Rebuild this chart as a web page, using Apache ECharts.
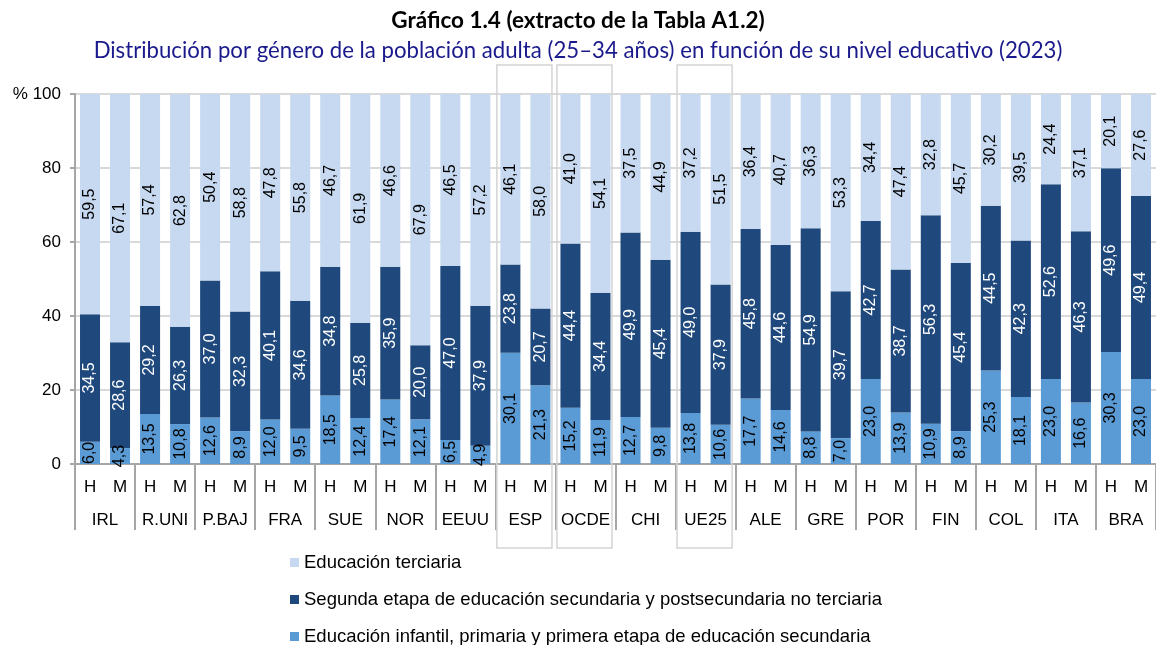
<!DOCTYPE html>
<html>
<head>
<meta charset="utf-8">
<script src="https://cdn.jsdelivr.net/npm/echarts@6/dist/echarts.min.js"></script>
<style>
html,body{margin:0;padding:0;background:#fff;}
#c{width:1156px;height:645px;}
</style>
</head>
<body>
<div id="c"></div>
<script>
// ---- data ----
var countries = ['IRL','R.UNI','P.BAJ','FRA','SUE','NOR','EEUU','ESP','OCDE','CHI','UE25','ALE','GRE','POR','FIN','COL','ITA','BRA'];
var genders = ['H','M'];
var highlighted = ['ESP','OCDE','UE25'];
var seriesNames = [
  'Educación infantil, primaria y primera etapa de educación secundaria',
  'Segunda etapa de educación secundaria y postsecundaria no terciaria',
  'Educación terciaria'
];
var basicH = [6.0,13.5,12.6,12.0,18.5,17.4,6.5,30.1,15.2,12.7,13.8,17.7,8.8,23.0,10.9,25.3,23.0,30.3];
var basicM = [4.3,10.8,8.9,9.5,12.4,12.1,4.9,21.3,11.9,9.8,10.6,14.6,7.0,13.9,8.9,18.1,16.6,23.0];
var secH   = [34.5,29.2,37.0,40.1,34.8,35.9,47.0,23.8,44.4,49.9,49.0,45.8,54.9,42.7,56.3,44.5,52.6,49.6];
var secM   = [28.6,26.3,32.3,34.6,25.8,20.0,37.9,20.7,34.4,45.4,37.9,44.6,39.7,38.7,45.4,42.3,46.3,49.4];
var terH   = [59.5,57.4,50.4,47.8,46.7,46.6,46.5,46.1,41.0,37.5,37.2,36.4,36.3,34.4,32.8,30.2,24.4,20.1];
var terM   = [67.1,62.8,58.8,55.8,61.9,67.9,57.2,58.0,54.1,44.9,51.5,40.7,53.3,47.4,45.7,39.5,37.1,27.6];
var yTicks = [0,20,40,60,80,100];

// ---- build ----
var cats = [];
countries.forEach(function(c){ genders.forEach(function(g){ cats.push(c + '|' + g); }); });
function interleave(a, b){ var r=[]; for (var i=0;i<a.length;i++){ r.push(a[i]); r.push(b[i]); } return r; }
var dBasic = interleave(basicH, basicM);
var dSec = interleave(secH, secM);
var dTer = interleave(terH, terM);

var colors = ['#5B9BD5', '#1F497D', '#C6D9F0'];
var labelColors = ['#000000', '#ffffff', '#000000'];
var FONT = 'Liberation Sans, Arial, sans-serif';
function fmt(v){ return v.toFixed(1).replace('.', ','); }

function mkSeries(idx, data){
  return {
    name: seriesNames[idx],
    type: 'bar',
    stack: 'total',
    xAxisIndex: 0,
    barWidth: 20,
    data: data,
    itemStyle: { color: colors[idx] },
    label: {
      show: true,
      position: 'inside',
      rotate: 90,
      color: labelColors[idx],
      fontFamily: FONT,
      fontSize: 16,
      formatter: function(p){ return fmt(p.value); }
    },
    emphasis: { disabled: true },
    animation: false
  };
}

var chart = echarts.init(document.getElementById('c'), null, { renderer: 'canvas' });
var option = {
  animation: false,
  title: [
    { text: 'Gráfico 1.4 (extracto de la Tabla A1.2)', left: 'center', top: 9, padding: 0,
      textStyle: { fontFamily: 'Lato, sans-serif', fontWeight: 'bold', fontSize: 22.5, color: '#000' } },
    { text: 'Distribución por género de la población adulta (25–34 años) en función de su nivel educativo (2023)', left: 'center', top: 40, padding: 0,
      textStyle: { fontFamily: 'Lato, sans-serif', fontWeight: 'normal', fontSize: 22.2, color: '#1a1a8c' } }
  ],
  grid: { left: 75, top: 94, width: 1082, height: 370, containLabel: false },
  legend: {
    orient: 'vertical', left: 290, top: 553, height: 200, padding: 0,
    itemWidth: 9, itemHeight: 9, itemGap: 18, icon: 'rect',
    data: [seriesNames[2], seriesNames[1], seriesNames[0]],
    textStyle: { fontFamily: FONT, fontSize: 18.5, color: '#000', padding: 0 },
    selectedMode: false
  },
  xAxis: [
    { type: 'category', data: cats, position: 'bottom',
      axisLine: { show: true, lineStyle: { color: '#a6a6a6', width: 2 } },
      axisTick: { show: false },
      axisLabel: { interval: 0, margin: 15, fontFamily: FONT, fontSize: 17, color: '#000',
        formatter: function(v){ return v.split('|')[1]; } },
      splitLine: { show: false } },
    { type: 'category', data: countries, position: 'bottom',
      axisLine: { show: false },
      axisTick: { show: true, interval: 0, length: 66, lineStyle: { color: '#a6a6a6', width: 2 } },
      axisLabel: { interval: 0, margin: 48, fontFamily: FONT, fontSize: 17, color: '#000' },
      splitLine: { show: false } }
  ],
  yAxis: {
    type: 'value', min: yTicks[0], max: yTicks[yTicks.length-1], interval: 20,
    axisLine: { show: true, lineStyle: { color: '#a6a6a6', width: 2 } },
    axisTick: { show: true, length: 5, lineStyle: { color: '#a6a6a6', width: 2 } },
    axisLabel: { margin: 14, fontFamily: FONT, fontSize: 17, color: '#000',
      formatter: function(v){ return v === 100 ? '% 100' : String(v); } },
    splitLine: { show: true, lineStyle: { color: '#d9d9d9', width: 2 } }
  },
  series: [ mkSeries(0, dBasic), mkSeries(1, dSec), mkSeries(2, dTer) ]
};
chart.setOption(option);

// highlight boxes around selected groups (computed from axis scale)
var c0 = chart.convertToPixel({ xAxisIndex: 0 }, 0);
var c1 = chart.convertToPixel({ xAxisIndex: 0 }, 1);
var slot = c1 - c0;
var yTop = chart.convertToPixel({ yAxisIndex: 0 }, 100);
var yBot = chart.convertToPixel({ yAxisIndex: 0 }, 0);
var gfx = [];
highlighted.forEach(function(name){
  var gi = countries.indexOf(name);
  var left = chart.convertToPixel({ xAxisIndex: 0 }, gi*2) - slot/2;
  gfx.push({
    type: 'rect', z: 100, silent: true,
    shape: { x: left + 1.5, y: yTop - 29, width: slot*2 - 5, height: (yBot + 84) - (yTop - 29) },
    style: { fill: 'none', stroke: '#d4d4d4', lineWidth: 1.5 }
  });
});
chart.setOption({ graphic: gfx });
</script>
</body>
</html>
